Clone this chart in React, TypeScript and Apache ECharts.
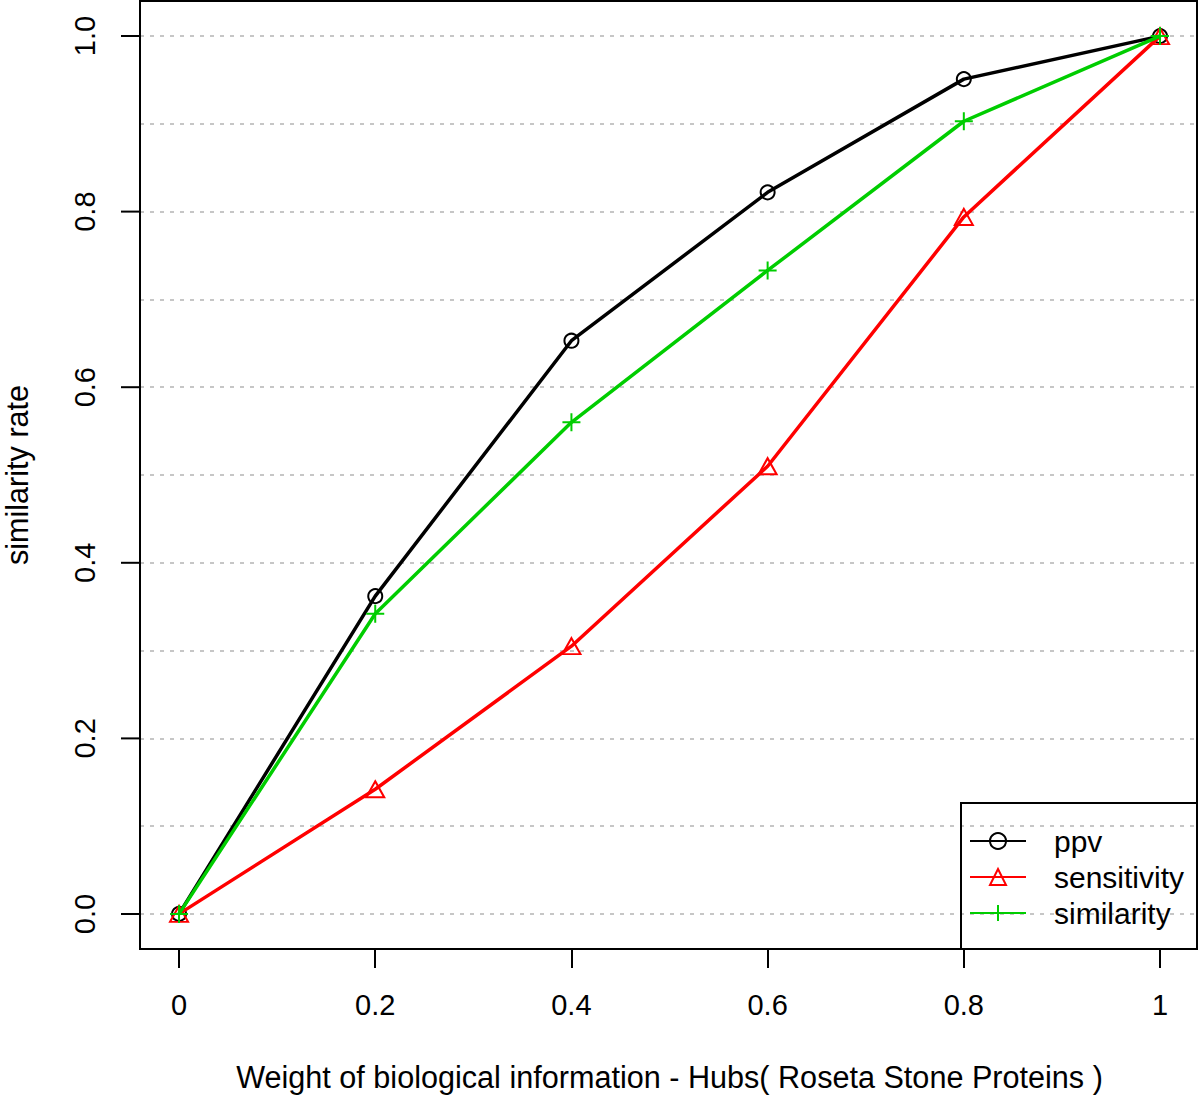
import React, { useEffect, useRef } from "react";
import * as echarts from "echarts";

const weights = [0, 0.2, 0.4, 0.6, 0.8, 1];
const ppv = [0, 0.362, 0.653, 0.822, 0.951, 1.0];
const sensitivity = [0, 0.142, 0.305, 0.51, 0.794, 1.0];
const similarity = [0, 0.342, 0.56, 0.733, 0.903, 1.0];
const seriesNames = ["ppv", "sensitivity", "similarity"];
const yTicks = [0, 0.2, 0.4, 0.6, 0.8, 1];
const xTitle = "Weight of biological information - Hubs( Roseta Stone Proteins )";
const yTitle = "similarity rate";

const FONT = "Liberation Sans, Arial, Helvetica, sans-serif";
const GREEN = "#00CD00";

export default function App() {
  const ref = useRef<HTMLDivElement>(null);
  useEffect(() => {
    const chart = echarts.init(ref.current!, null, { renderer: "svg" });
    const pair = (ys: number[]) => weights.map((w, i) => [w, ys[i]]);
    const gridBase = { containLabel: false, outerBoundsMode: "none" };
    const hidden = (gridIndex: number) => ({ gridIndex, type: "value", min: 0, max: 1, show: false });
    const TICK_LEN = 19;
    const LINE_W = 3.5;
    const option: any = {
      animation: false,
      backgroundColor: "#ffffff",
      textStyle: { fontFamily: FONT },
      grid: [
        { ...gridBase, left: 140, right: 3, top: 1, bottom: 147 },
        { ...gridBase, left: 179, right: 40, top: 1, bottom: 147 },
        { ...gridBase, left: 121, right: 3, top: 36, bottom: 182 },
        { ...gridBase, left: 140, right: 3, top: 36, bottom: 182 },
      ],
      xAxis: [
        { gridIndex: 0, type: "value", min: -0.0398, max: 1.0377, show: false },
        {
          gridIndex: 1,
          type: "value",
          min: 0,
          max: 1,
          interval: 0.2,
          axisLine: { show: false },
          axisTick: { show: true, length: TICK_LEN, lineStyle: { color: "#000", width: 2 } },
          axisLabel: {
            color: "#000",
            fontSize: 29,
            fontFamily: FONT,
            margin: 41,
            formatter: (v: number) => String(Number(v.toFixed(1))),
          },
          splitLine: { show: false },
          name: xTitle,
          nameLocation: "middle",
          nameGap: 112,
          nameTextStyle: { color: "#000", fontSize: 30.6, fontFamily: FONT },
        },
        {
          gridIndex: 2,
          type: "value",
          min: 0,
          max: 1,
          axisLine: { show: false },
          axisTick: { show: false },
          axisLabel: { show: false },
          splitLine: { show: false },
        },
        hidden(3),
      ],
      yAxis: [
        { gridIndex: 0, type: "value", min: -0.04, max: 1.04, show: false },
        hidden(1),
        {
          gridIndex: 2,
          type: "value",
          position: "left",
          min: 0,
          max: 1,
          interval: 0.2,
          axisLine: { show: false },
          axisTick: { show: false },
          axisLabel: {
            color: "#000",
            fontSize: 29,
            fontFamily: FONT,
            rotate: 90,
            margin: 22,
            formatter: (v: number) => v.toFixed(1),
          },
          splitLine: { show: false },
          name: yTitle,
          nameLocation: "middle",
          nameGap: 89,
          nameTextStyle: { color: "#000", fontSize: 30.6, fontFamily: FONT },
        },
        {
          gridIndex: 3,
          type: "value",
          min: 0,
          max: 1,
          interval: 0.1,
          axisLine: { show: false },
          axisTick: { show: false },
          axisLabel: { show: false },
          splitLine: { show: true, lineStyle: { color: "#b4b4b4", width: 1.5, type: [4, 6] } },
        },
      ],
      legend: {
        orient: "vertical",
        left: 969,
        top: 826,
        itemWidth: 56,
        itemHeight: 20,
        itemGap: 6,
        padding: 0,
        data: seriesNames,
        textStyle: { color: "#000", fontSize: 30, fontFamily: FONT, lineHeight: 30, padding: [0, 0, 0, 23] },
      },
      graphic: [
        {
          type: "rect",
          shape: { x: 140, y: 1, width: 1057, height: 948 },
          style: { fill: "none", stroke: "#000", lineWidth: 2 },
          z: 100,
          silent: true,
        },
        {
          type: "rect",
          shape: { x: 961, y: 803, width: 236, height: 146 },
          style: { fill: "none", stroke: "#000", lineWidth: 2 },
          z: 100,
          silent: true,
        },
      ],
      series: [
        {
          name: "yTicks",
          type: "custom",
          xAxisIndex: 2,
          yAxisIndex: 2,
          silent: true,
          clip: false,
          z: 50,
          data: yTicks.map((v) => [0, v]),
          renderItem: (params: any, api: any) => {
            const p = api.coord([api.value(0), api.value(1)]);
            return {
              type: "line",
              shape: { x1: p[0], y1: p[1], x2: p[0] + TICK_LEN, y2: p[1] },
              style: { stroke: "#000", lineWidth: 2 },
            };
          },
        },
        {
          name: "ppv",
          type: "line",
          xAxisIndex: 0,
          yAxisIndex: 0,
          data: pair(ppv),
          symbol: "circle",
          symbolSize: 14,
          lineStyle: { color: "#000", width: LINE_W },
          itemStyle: { color: "rgba(0,0,0,0)", borderColor: "#000", borderWidth: 2 },
          z: 3,
        },
        {
          name: "sensitivity",
          type: "line",
          xAxisIndex: 0,
          yAxisIndex: 0,
          data: pair(sensitivity),
          symbol: "triangle",
          symbolSize: [18, 16],
          lineStyle: { color: "#ff0000", width: LINE_W },
          itemStyle: { color: "rgba(0,0,0,0)", borderColor: "#ff0000", borderWidth: 2 },
          z: 4,
        },
        {
          name: "similarity",
          type: "line",
          xAxisIndex: 0,
          yAxisIndex: 0,
          data: pair(similarity),
          symbol: "path://M10,0L10,20M0,10L20,10",
          symbolSize: 18,
          lineStyle: { color: GREEN, width: LINE_W },
          itemStyle: { color: "rgba(0,0,0,0)", borderColor: GREEN, borderWidth: 2 },
          z: 5,
        },
      ],
    };
    chart.setOption(option);
    return () => chart.dispose();
  }, []);
  return (
    <div
      ref={ref}
      style={{ position: "absolute", left: 0, top: 0, width: 1200, height: 1096 }}
    />
  );
}
